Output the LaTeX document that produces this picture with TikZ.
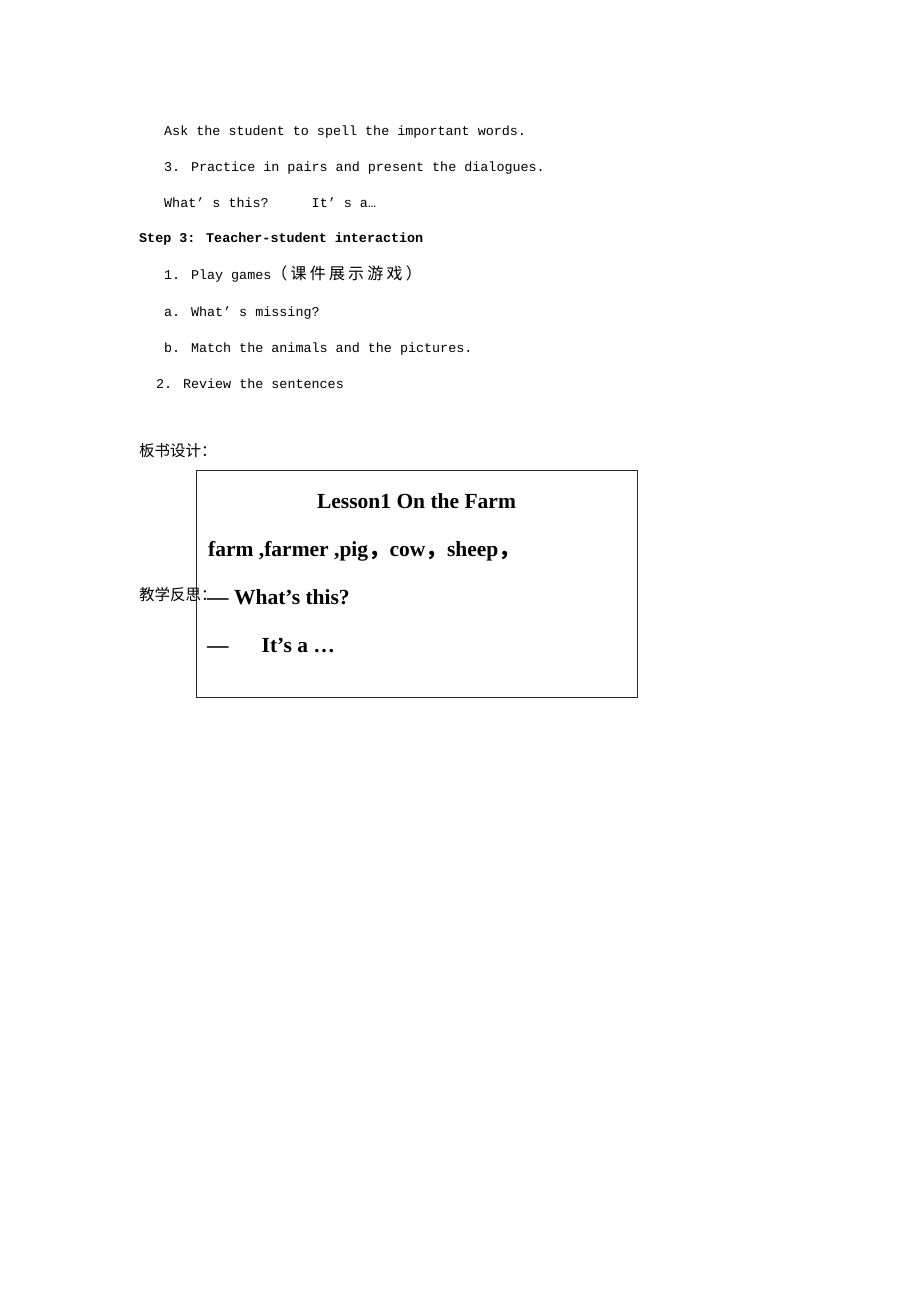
\documentclass[tikz,border=0pt]{standalone}
\usepackage{fontspec}
\setmainfont{Liberation Serif}
\newfontfamily\monof{Liberation Mono}
\newfontfamily\cjk{Noto Sans CJK SC}
\newcommand{\hs}{\kern3.2pt}
\begin{document}
\begin{tikzpicture}[x=1pt,y=-1pt,
  mono/.style={anchor=base west,inner sep=0pt,font=\monof\fontsize{13.4}{16}\selectfont},
  monob/.style={mono,font=\monof\bfseries\fontsize{13.4}{16}\selectfont},
  cn/.style={anchor=base west,inner sep=0pt,font=\cjk\fontsize{15.5}{18}\selectfont},
  boardtxt/.style={anchor=base west,inner sep=0pt,font=\bfseries\fontsize{21.5}{25}\selectfont},
  boardbox/.style={draw=black!85,line width=1pt,inner sep=0pt,anchor=north west,
    minimum width=441pt,minimum height=227pt}]
\useasboundingbox[fill=white] (0,0) rectangle (920,1302);
\node[mono] (l1) at (164,135) {Ask the student to spell the important words.};
\node[mono] (l2) at (164,171) {3. Practice in pairs and present the dialogues.};
\node[mono] (l3) at (164,207) {What’ s this?\hspace{43pt}It’ s a…};
\node[monob] (step) at (139,242) {Step 3: Teacher-student interaction};
\node[mono] (g1) at (164,279) {1. Play games{\cjk\fontsize{16}{18}\selectfont （\hs 课\hs 件\hs 展\hs 示\hs 游\hs 戏\hs ）}};
\node[mono] (ga) at (164,316) {a. What’ s missing?};
\node[mono] (gb) at (164,352) {b. Match the animals and the pictures.};
\node[mono] (g2) at (156,388) {2. Review the sentences};
\node[cn] (bs) at (139,456) {板书设计：};
\node[boardbox] (board) at (196,470) {};
\node[boardtxt,anchor=base] (title) at (416.5,508) {Lesson1 On the Farm};
\node[boardtxt] (words) at (208,556) {farm ,farmer ,pig{\cjk ，}cow{\cjk ，}sheep{\cjk ，}};
\node[cn] (fs) at (139,600) {教学反思：};
\node[boardtxt] (q) at (207,604) {— What’s this?};
\node[boardtxt] (ans) at (207,652) {—\hspace{33pt}It’s a …};
\end{tikzpicture}
\end{document}
